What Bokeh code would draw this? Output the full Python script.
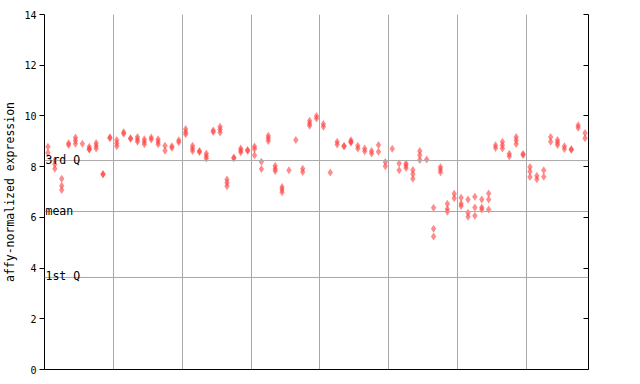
from bokeh.plotting import figure
from bokeh.models import Span, Label, LinearAxis, FixedTicker, Range1d, ColumnDataSource
from bokeh.embed import file_html
from bokeh.resources import INLINE

# expression values per sample (samples in groups of ten)
group1 = [[8.78, 8.55], [8.24, 8.09, 7.92], [7.52, 7.25, 7.08], [8.92, 8.85],
          [9.15, 9.03, 8.9], [8.9], [8.78, 8.7, 8.68], [8.93, 8.82, 8.72],
          [7.7, 7.7], [9.16, 9.12]]
group2 = [[9.05, 8.92, 8.8], [9.36, 9.3], [9.12, 9.1], [9.17, 9.07, 8.98],
          [9.08, 8.98, 8.88], [9.15, 9.07], [9.08, 8.98, 8.88], [8.82, 8.63],
          [8.8, 8.75], [9.04, 8.96]]
group3 = [[9.48, 9.37, 9.28], [8.82, 8.72, 8.62], [8.62, 8.58], [8.52, 8.41, 8.32],
          [9.43, 9.37], [9.57, 9.46, 9.35], [7.49, 7.36, 7.23], [8.36, 8.33],
          [8.72, 8.64, 8.57], [8.66, 8.63]]
group4 = [[8.79, 8.7, 8.45], [8.19, 7.91], [9.22, 9.12, 9.01], [8.04, 7.92, 7.83],
          [7.2, 7.1, 6.99], [7.86], [9.05], [7.92, 7.79],
          [9.81, 9.7, 9.61], [10.0, 9.9]]
group5 = [[9.68, 9.57], [7.77], [8.98, 8.87], [8.81, 8.8],
          [9.04, 8.97, 8.95], [8.82, 8.72], [8.72, 8.61], [8.62, 8.52],
          [8.85, 8.59], [8.18, 8.02]]
group6 = [[8.71], [8.12, 7.86], [8.12, 8.05, 7.95], [7.87, 7.71, 7.52],
          [8.62, 8.45, 8.26], [8.28], [6.38, 5.55, 5.25], [7.99, 7.89, 7.78],
          [6.54, 6.33, 6.22], [6.93, 6.75]]
group7 = [[6.77, 6.54, 6.45], [6.7, 6.18, 6.02], [6.81, 6.39, 6.06], [6.7, 6.39, 6.31],
          [6.94, 6.7, 6.31], [8.84, 8.74], [8.98, 8.84, 8.72], [8.51, 8.41],
          [9.17, 9.04, 8.89], [8.5, 8.46]]
group8 = [[7.99, 7.81, 7.59], [7.64, 7.5], [7.86, 7.6], [9.17, 8.98],
          [9.05, 8.95, 8.85], [8.8, 8.7], [8.69, 8.67], [9.63, 9.53],
          [9.33, 9.12]]

q1_value = 3.63
mean_value = 6.23
q3_value = 8.24
y_ticks = [0, 2, 4, 6, 8, 10, 12, 14]
y_label = "affy-normalized expression"
ref_labels = ["1st Q", "mean", "3rd Q"]

groups = [group1, group2, group3, group4, group5, group6, group7, group8]
xs, ys = [], []
idx = 0
for g in groups:
    for vals in g:
        for v in vals:
            xs.append(idx)
            ys.append(v)
        idx += 1
n = idx
boundaries = [k * 10 - 0.5 for k in range(1, len(groups))]

FONT = "DejaVu Sans Mono"

p = figure(width=630, height=378, x_range=Range1d(-0.5, n - 0.5), y_range=Range1d(0, 14),
           output_backend="svg", toolbar_location=None,
           min_border_left=44, min_border_right=42, min_border_top=14, min_border_bottom=9)
p.outline_line_color = None
p.background_fill_color = "white"
p.border_fill_color = "white"

# bottom axis: line only
p.xaxis.ticker = FixedTicker(ticks=boundaries)
p.xaxis.major_tick_in = 0
p.xaxis.major_tick_out = 0
p.xaxis.minor_tick_line_color = None
p.xaxis.major_label_text_font_size = "1px"
p.xaxis.major_label_text_color = None
p.xaxis.major_label_standoff = 0
p.xaxis.axis_line_color = "black"

p.xgrid.ticker = FixedTicker(ticks=boundaries)
p.xgrid.grid_line_color = "#a8a8a8"
p.ygrid.visible = False

p.yaxis.ticker = FixedTicker(ticks=y_ticks)
p.yaxis.major_tick_out = 5
p.yaxis.major_tick_in = 0
p.yaxis.minor_tick_line_color = None
p.yaxis.major_label_text_font = FONT
p.yaxis.major_label_text_font_size = "10px"
p.yaxis.major_label_text_color = "black"
p.yaxis.major_label_standoff = 3
p.yaxis.axis_label = y_label
p.yaxis.axis_label_text_font = FONT
p.yaxis.axis_label_text_font_size = "11.5px"
p.yaxis.axis_label_text_font_style = "normal"
p.yaxis.axis_label_text_color = "black"
p.yaxis.axis_label_standoff = 4
p.yaxis.axis_line_color = "black"
p.yaxis.major_tick_line_color = "black"

right = LinearAxis(ticker=FixedTicker(ticks=y_ticks), major_tick_in=5, major_tick_out=0,
                   minor_tick_line_color=None, major_label_text_font_size="1px",
                   major_label_text_color=None, major_label_standoff=0,
                   axis_line_color="black", major_tick_line_color="black")
p.add_layout(right, "right")

for val, lab in zip([q1_value, mean_value, q3_value], ref_labels):
    p.add_layout(Span(location=val, dimension="width", line_color="#a8a8a8", line_width=1))
    p.add_layout(Label(x=-0.5, y=val, text=lab, text_font=FONT, text_font_size="11.5px",
                       text_color="black", text_baseline="alphabetic", x_offset=1, y_offset=1))

src = ColumnDataSource(data=dict(x=xs, y=ys))
p.scatter("x", "y", source=src, marker="diamond", size=8, fill_color="#ff4040",
          fill_alpha=0.6, line_color=None)

open("out.html", "w").write(file_html(p, INLINE))
